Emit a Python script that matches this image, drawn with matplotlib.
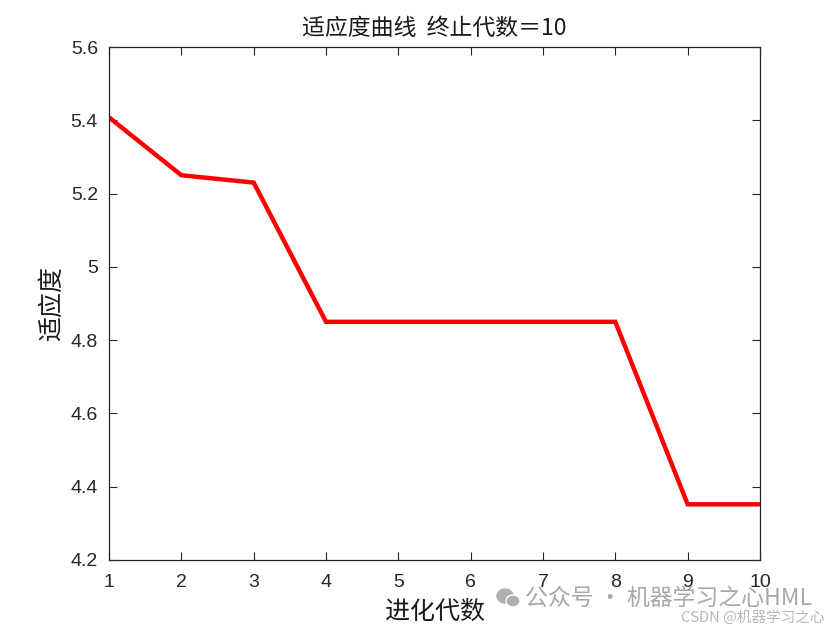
import matplotlib
matplotlib.use("Agg")
import matplotlib.pyplot as plt
from matplotlib.patches import Ellipse

generations = [1, 2, 3, 4, 5, 6, 7, 8, 9, 10]
fitness = [5.408, 5.250, 5.230, 4.850, 4.850, 4.850, 4.850, 4.850, 4.352, 4.352]
yticks = [4.2, 4.4, 4.6, 4.8, 5.0, 5.2, 5.4, 5.6]
ytick_labels = ["4.2", "4.4", "4.6", "4.8", "5", "5.2", "5.4", "5.6"]

cjk = ["Noto Sans CJK SC", "Liberation Sans", "DejaVu Sans"]
num = ["Liberation Sans", "DejaVu Sans"]

fig = plt.figure(figsize=(8.4, 6.3), dpi=100)
ax = fig.add_axes([109/840, 1-560/630, (760-109)/840, (560-47)/630])
ax.plot(generations, fitness, color="#ff0000", linewidth=3.2, solid_joinstyle="miter", solid_capstyle="butt")
ax.set_xlim(1, 10)
ax.set_ylim(4.2, 5.6)
ax.set_xticks(generations)
ax.set_xticklabels([str(g) for g in generations], fontfamily=num, fontsize=14)
ax.set_yticks(yticks)
ax.set_yticklabels(ytick_labels, fontfamily=num, fontsize=14)
ax.tick_params(direction="in", top=True, right=True, length=6, width=0.8, colors="#262626", labelcolor="#262626")
ax.tick_params(axis="x", pad=10)
ax.tick_params(axis="y", pad=8)
for s in ax.spines.values():
    s.set_linewidth(0.9)
    s.set_color("#262626")
ax.set_title("适应度曲线  终止代数＝10", fontfamily=cjk, fontsize=16.5, color="#1a1a1a", pad=9, fontweight="light")
ax.set_xlabel("进化代数", fontfamily=cjk, fontsize=18, color="#1a1a1a", labelpad=6, fontweight="light")
ax.set_ylabel("适应度", fontfamily=cjk, fontsize=18, color="#1a1a1a", labelpad=4, fontweight="light")

# watermark
fig.patches.append(Ellipse((505/840, 1-596/630), 16/840, 14/630, transform=fig.transFigure, color="#b0b0b0"))
fig.patches.append(Ellipse((513/840, 1-601/630), 14/840, 12/630, transform=fig.transFigure, color="#b0b0b0", ec="white", lw=1))
fig.text(525/840, 1-598/630, "公众号 · 机器学习之心HML", fontfamily=cjk, fontsize=16.5, color="#a8a8a8", ha="left", va="center")
fig.text(681/840, 1-618/630, "CSDN @机器学习之心", fontfamily=cjk, fontsize=10.5, color="#b8b8b8", ha="left", va="center")

fig.savefig("out.png", dpi=100, facecolor="white")
